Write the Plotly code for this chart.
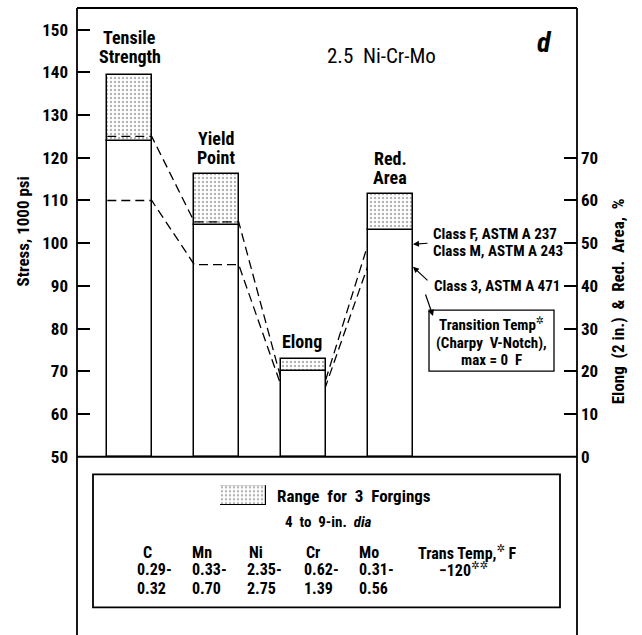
import plotly.graph_objects as go

# ---------------- data ----------------
categories = ["Tensile Strength", "Yield Point", "Elong", "Red. Area"]
stress_cats = ["Tensile Strength", "Yield Point"]
stress_top = [139.5, 116.3]      # 1000 psi, top of range
stress_low = [124.0, 104.2]      # 1000 psi, bottom of range
pct_cats = ["Elong", "Red. Area"]
pct_top = [23.0, 61.5]           # %, top of range
pct_low = [20.0, 53.0]           # %, bottom of range
spec_upper = [125, 105, 18, 50]  # Class F A237 / Class M A243 minimums
spec_lower = [110, 95, 16.5, 45] # Class 3 A471 minimums
stress_ticks = [50, 60, 70, 80, 90, 100, 110, 120, 130, 140, 150]
pct_ticks = [0, 10, 20, 30, 40, 50, 60, 70]
elements = ["C", "Mn", "Ni", "Cr", "Mo"]
elem_low = ["0.29-", "0.33-", "2.35-", "0.62-", "0.31-"]
elem_high = ["0.32", "0.70", "2.75", "1.39", "0.56"]
trans_temp = "\u2212120"

# ---------------- styling / layout helpers ----------------
W, H = 642, 635
ML, MR, MT, MB = 77, 65, 8, 0
PW, PH = W - ML - MR, H - MT - MB
Y1 = [50, 155.07]
Y2 = [0, 105.07]
OFF = Y1[0] - Y2[0]
BASE_PX = 464
DOM_LO = (H - BASE_PX) / PH
BW = 0.51
xpos = {c: i for i, c in enumerate(categories)}

FONT = "Roboto Condensed, Liberation Sans Narrow, DejaVu Sans Condensed, sans-serif"


def P(px, py):
    return (px - ML) / PW, (H - py) / PH


pattern = dict(shape=".", fgcolor="#666666", bgcolor="white", size=4, solidity=0.28)
edge = dict(color="black", width=1.5)

fig = go.Figure()

# stress bars (left axis)
sx = [xpos[c] for c in stress_cats]
fig.add_trace(go.Bar(x=sx, y=[l - Y1[0] for l in stress_low], base=[Y1[0]] * len(sx),
                     width=BW, marker=dict(color="white", line=edge), yaxis="y", showlegend=False))
fig.add_trace(go.Bar(x=sx, y=[t - l for t, l in zip(stress_top, stress_low)], base=stress_low,
                     width=BW, marker=dict(color="white", line=edge, pattern=pattern), yaxis="y",
                     showlegend=False))
# percent bars (right axis)
px_ = [xpos[c] for c in pct_cats]
fig.add_trace(go.Bar(x=px_, y=[l - Y2[0] for l in pct_low], base=[Y2[0]] * len(px_),
                     width=BW, marker=dict(color="white", line=edge), yaxis="y2", showlegend=False))
fig.add_trace(go.Bar(x=px_, y=[t - l for t, l in zip(pct_top, pct_low)], base=pct_low,
                     width=BW, marker=dict(color="white", line=edge, pattern=pattern), yaxis="y2",
                     showlegend=False))

# dashed specification lines (percent values mapped onto left scale)
for spec in (spec_upper, spec_lower):
    xs, ys = [], []
    for i, c in enumerate(categories):
        v = spec[i] + (OFF if c in pct_cats else 0)
        xs += [xpos[c] - BW / 2, xpos[c] + BW / 2]
        ys += [v, v]
    fig.add_trace(go.Scatter(x=xs, y=ys, mode="lines", yaxis="y", showlegend=False,
                             line=dict(color="black", width=1.3, dash="9px,5px")))

# legend swatch on its own small axis
fig.add_trace(go.Bar(x=[0], y=[1], width=1, xaxis="x3", yaxis="y3", showlegend=False,
                     marker=dict(color="white", line=dict(color="black", width=1.2), pattern=pattern)))

tickfont = dict(family=FONT, size=17, color="black", weight="bold")
fig.update_layout(
    width=W, height=H, autosize=False,
    margin=dict(l=ML, r=MR, t=MT, b=MB),
    paper_bgcolor="white", plot_bgcolor="white",
    barmode="overlay", bargap=0,
    font=dict(family=FONT, color="black"),
    xaxis=dict(domain=[0, 1], range=[-0.6034, -0.6034 + PW / 87.0], visible=False),
    yaxis=dict(domain=[DOM_LO, 1], range=Y1, tickvals=stress_ticks, ticks="inside",
               ticklen=13, tickwidth=1.5, tickcolor="black", showgrid=False, zeroline=False,
               showline=False, tickfont=tickfont, ticklabelstandoff=8),
    yaxis2=dict(domain=[DOM_LO, 1], range=Y2, overlaying="y", side="right", anchor="x",
                tickvals=pct_ticks, ticks="inside", ticklen=13, tickwidth=1.5, tickcolor="black",
                showgrid=False, zeroline=False, showline=False, tickfont=tickfont,
                ticklabelstandoff=3),
    xaxis3=dict(domain=[P(220, 0)[0], P(266, 0)[0]], range=[-0.5, 0.5], visible=False, anchor="y3"),
    yaxis3=dict(domain=[P(0, 513)[1], P(0, 493)[1]], range=[0, 1], visible=False, anchor="x3"),
)

# frame lines
LW = 1.8
shapes = [
    dict(type="line", xref="paper", yref="paper", x0=0, x1=1, y0=1, y1=1),
    dict(type="line", xref="paper", yref="paper", x0=0, x1=0, y0=-0.05, y1=1),
    dict(type="line", xref="paper", yref="paper", x0=1, x1=1, y0=-0.05, y1=1),
    dict(type="line", xref="paper", yref="paper", x0=0, x1=1, y0=DOM_LO, y1=DOM_LO),
]
for s in shapes:
    s["line"] = dict(color="black", width=LW)
    fig.add_shape(**s)

# bottom info box
bx0, by0 = P(93, 617)
bx1, by1 = P(560, 482)
fig.add_shape(type="rect", xref="paper", yref="paper", x0=bx0, x1=bx1, y0=by0, y1=by1,
              line=dict(color="black", width=1.8))
# transition temp box
tx0, ty0 = P(429, 377)
tx1, ty1 = P(554, 315)
fig.add_shape(type="rect", xref="paper", yref="paper", x0=tx0, x1=tx1, y0=ty0, y1=ty1,
              line=dict(color="black", width=1.3), fillcolor="white")


def txt(s, px, py, size=17, bold=True, xanchor="center", italic=False, angle=0):
    x, y = P(px, py)
    fig.add_annotation(x=x, y=y, xref="paper", yref="paper", text=s, showarrow=False,
                       xanchor=xanchor, yanchor="middle", textangle=angle,
                       font=dict(family=FONT, size=size, color="black",
                                 weight="bold" if bold else "normal",
                                 style="italic" if italic else "normal"))


def arrow(hx, hy, tx, ty):
    x, y = P(hx, hy)
    fig.add_annotation(x=x, y=y, xref="paper", yref="paper", ax=tx - hx, ay=ty - hy, text="",
                       showarrow=True, arrowhead=2, arrowsize=1, arrowwidth=1.2, arrowcolor="black")


# bar labels
txt("Tensile", 129.5, 38, size=18)
txt("Strength", 129.5, 57, size=18)
txt("Yield", 216, 141, size=18)
txt("Point", 216, 160, size=18)
txt("Elong", 302, 347, size=18)
txt("Red.", 390, 161, size=18)
txt("Area", 390, 180, size=18)
txt("2.5  Ni-Cr-Mo", 381, 57, size=21, bold=False)
txt("d", 544, 43, size=28, italic=True)

# axis titles
txt("Stress, 1000 psi", 23, 235, angle=-90)
txt("Elong  (2 in.)  &  Red.  Area,  %", 618, 306, angle=-90)

# spec labels
txt("Class F, ASTM A 237", 431, 238, size=15, xanchor="left")
txt("Class M, ASTM A 243", 431, 255, size=15, xanchor="left")
txt("Class 3, ASTM A 471", 432, 291, size=15, xanchor="left")
arrow(413, 248, 429, 247)
arrow(413, 271, 429, 286)
arrow(433, 321, 425, 298)
txt("Transition Temp<sup>\u2732</sup>", 491, 329, size=15)
txt("(Charpy  V-Notch),", 491, 348, size=15)
txt("max = 0  F", 491, 366, size=15)

# bottom box text
txt("Range  for  3  Forgings", 275, 504, size=17, xanchor="left")
txt("4  to  9-in.  <i>dia</i>", 328, 530, size=15)
hdr_x = [147, 202, 256, 313, 369]
val_x = [135, 190, 245, 302, 357]
for e, lo, hi, hx, vx in zip(elements, elem_low, elem_high, hdr_x, val_x):
    txt(e, hx, 561, size=16)
    txt(lo, vx, 579, size=16, xanchor="left")
    txt(hi, vx, 598, size=16, xanchor="left")
txt("Trans Temp,<sup>\u2732</sup> F", 467, 561, size=16)
txt(trans_temp + "<sup>\u2732\u2732</sup>", 463, 579, size=16)

fig.write_html("out.html")
